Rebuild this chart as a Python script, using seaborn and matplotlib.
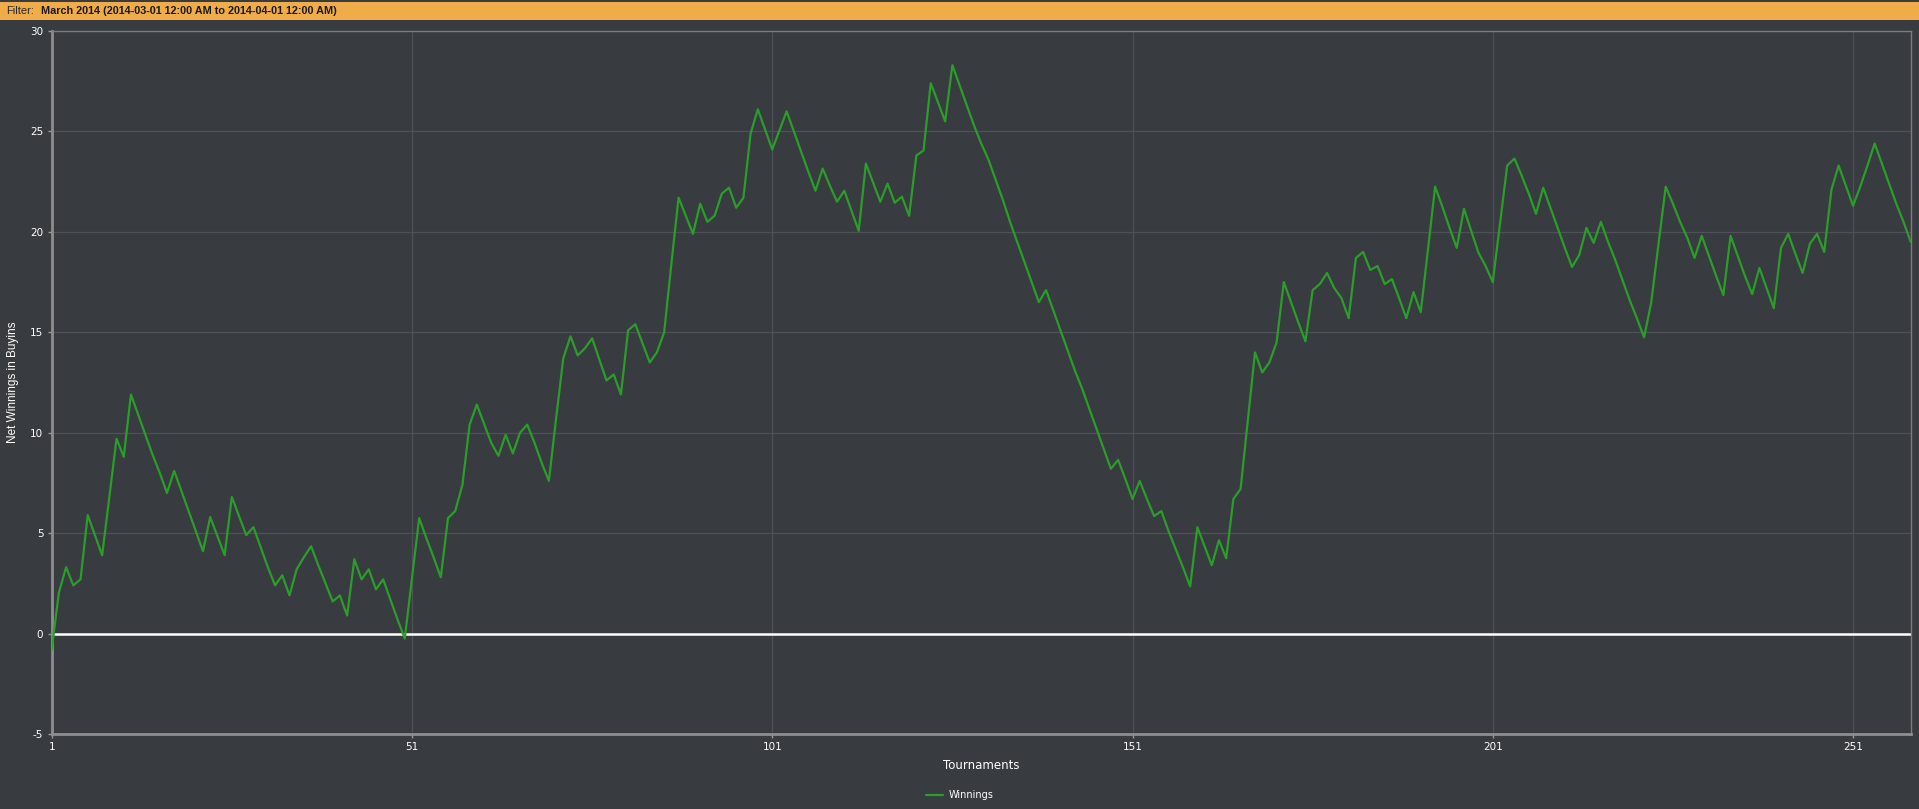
import matplotlib
matplotlib.use('Agg')
import matplotlib.pyplot as plt
import seaborn as sns
import pandas as pd
import numpy as np
from matplotlib.patches import Rectangle

# Dados (ganho líquido acumulado em buy-ins por torneio)
winnings = [
    -0.8, 2.05, 3.3, 2.4, 2.7, 5.9, 4.9, 3.9, 6.8, 9.7,
    8.8, 11.9, 10.9, 9.9, 8.9, 8.0, 7.0, 8.1, 7.1, 6.1,
    5.1, 4.1, 5.8, 4.85, 3.9, 6.8, 5.85, 4.9, 5.3, 4.3,
    3.3, 2.4, 2.9, 1.9, 3.2, 3.8, 4.35, 3.4, 2.5, 1.6,
    1.9, 0.9, 3.7, 2.7, 3.2, 2.2, 2.7, 1.7, 0.7, -0.25,
    2.75, 5.75, 4.75, 3.8, 2.8, 5.75, 6.1, 7.4, 10.4, 11.4,
    10.45, 9.5, 8.85, 9.9, 8.97, 10.0, 10.4, 9.5, 8.5, 7.6,
    10.7, 13.7, 14.8, 13.85, 14.2, 14.7, 13.65, 12.6, 12.9, 11.9,
    15.1, 15.4, 14.45, 13.5, 14.0, 15.0, 18.4, 21.7, 20.8, 19.9,
    21.4, 20.5, 20.8, 21.9, 22.2, 21.2, 21.7, 24.9, 26.1, 25.1,
    24.1, 25.05, 26.0, 25.0, 24.0, 23.0, 22.05, 23.15, 22.3, 21.5,
    22.05, 21.05, 20.05, 23.4, 22.45, 21.5, 22.4, 21.45, 21.75, 20.8,
    23.8, 24.05, 27.4, 26.45, 25.5, 28.3, 27.3, 26.3, 25.3, 24.4,
    23.6, 22.6, 21.6, 20.5, 19.5, 18.5, 17.5, 16.5, 17.1, 16.1,
    15.1, 14.1, 13.1, 12.2, 11.2, 10.2, 9.2, 8.2, 8.65, 7.7,
    6.7, 7.6, 6.7, 5.85, 6.1, 5.1, 4.2, 3.3, 2.35, 5.3,
    4.35, 3.4, 4.65, 3.75, 6.7, 7.2, 10.6, 14.0, 13.0, 13.5,
    14.5, 17.5, 16.5, 15.5, 14.55, 17.1, 17.4, 17.95, 17.2, 16.7,
    15.7, 18.7, 19.0, 18.1, 18.3, 17.4, 17.65, 16.7, 15.7, 17.0,
    16.0, 19.1, 22.25, 21.25, 20.2, 19.2, 21.15, 20.05, 18.97, 18.3,
    17.5, 20.4, 23.3, 23.65, 22.8, 21.9, 20.9, 22.2, 21.2, 20.2,
    19.2, 18.25, 18.85, 20.2, 19.45, 20.5, 19.5, 18.6, 17.6, 16.6,
    15.7, 14.75, 16.5, 19.4, 22.25, 21.4, 20.5, 19.7, 18.7, 19.8,
    18.8, 17.8, 16.85, 19.8, 18.8, 17.8, 16.9, 18.2, 17.2, 16.2,
    19.2, 19.9, 18.9, 17.95, 19.4, 19.9, 19.0, 22.1, 23.3, 22.3,
    21.3, 22.25, 23.3, 24.4, 23.4, 22.4, 21.4, 20.5, 19.5,
]
tournaments = list(range(1, len(winnings) + 1))
x_ticks = [1, 51, 101, 151, 201, 251]
y_ticks = [-5, 0, 5, 10, 15, 20, 25, 30]
filter_label = 'Filter:'
filter_text = 'March 2014 (2014-03-01 12:00 AM to 2014-04-01 12:00 AM)'

df = pd.DataFrame({'Tournaments': tournaments, 'Winnings': winnings})

fundo = '#383b3f'
sns.set_style('dark', rc={'axes.facecolor': fundo, 'figure.facecolor': fundo})
plt.rcParams['font.family'] = ['DejaVu Sans']
plt.rcParams['axes.unicode_minus'] = False

fig = plt.figure(figsize=(19.19, 8.09), dpi=100)
ax = fig.add_axes([51.7 / 1919, 1 - 734 / 809, 1859 / 1919, 703 / 809])

# Faixa laranja do filtro
fig.patches.append(Rectangle((0, 1 - 20 / 809), 1, 18 / 809, transform=fig.transFigure,
                             facecolor='#f0ac48', edgecolor='none', zorder=0))
fig.text(6 / 1919, 1 - 11 / 809, filter_label, fontsize=8, color='#2a2a2a', va='center',
         family=['Liberation Sans'])
fig.text(41 / 1919, 1 - 11 / 809, filter_text, fontsize=7.8, color='#1a1a1a',
         va='center', fontweight='bold', family=['Liberation Sans'])

ax.grid(True, color='#4e5256', linewidth=0.9)
ax.axhline(0, color='white', linewidth=1.8, zorder=2)
sns.lineplot(data=df, x='Tournaments', y='Winnings', ax=ax, color='#2a9d2a',
             linewidth=1.6, label='Winnings', zorder=3)

ax.set_xlim(1, 259)
ax.set_ylim(-5, 30)
ax.set_xticks(x_ticks)
ax.set_yticks(y_ticks)
ax.tick_params(axis='both', colors='#9a9a9a', labelcolor='white', labelsize=7.5,
               length=3, width=1, pad=3, direction='out', left=True, bottom=True)

for lado in ['top', 'right']:
    ax.spines[lado].set_color('#7c7c7c')
    ax.spines[lado].set_linewidth(1)
for lado in ['left', 'bottom']:
    ax.spines[lado].set_color('#8e8e8e')
    ax.spines[lado].set_linewidth(2)

ax.set_xlabel('Tournaments', color='white', fontsize=8.5, labelpad=5)
ax.set_ylabel('Net Winnings in Buyins', color='white', fontsize=8.5,
              family=['Liberation Sans'])
ax.yaxis.set_label_coords((19 - 51.7) / 1859, 0.5)

leg = ax.legend(loc='lower center', bbox_to_anchor=(0.5, 0), bbox_transform=fig.transFigure,
                frameon=False, fontsize=7, handlelength=1.8, handletextpad=0.5)
for t in leg.get_texts():
    t.set_color('white')

plt.savefig('out.png', dpi=100, facecolor=fundo)
plt.close()
